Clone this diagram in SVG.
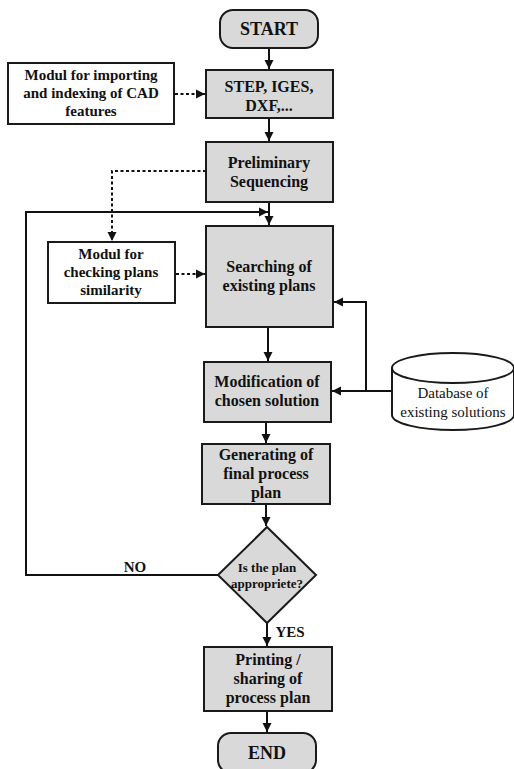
<svg xmlns="http://www.w3.org/2000/svg" width="514" height="769" viewBox="0 0 514 769">
<style>
.box{fill:#d9d9d9;stroke:#1a1a1a;stroke-width:2}
.wbox{fill:#ffffff;stroke:#1a1a1a;stroke-width:2}
.t{font-family:"Liberation Serif","Times New Roman",serif;font-weight:bold;font-size:16px;fill:#111;text-anchor:middle}
.s{font-size:15px}
.d{font-size:13px}
.n{font-weight:normal;font-size:15px}
.big{font-size:18px}
.c{fill:none;stroke:#111;stroke-width:2}
.dash{stroke-dasharray:3 2.5}
</style>
<defs>
<marker id="ah" markerWidth="10" markerHeight="10" refX="9" refY="5" orient="auto" markerUnits="userSpaceOnUse">
<path d="M0,0.5 L9,5 L0,9.5 Z" fill="#111"/>
</marker>
</defs>
<g id="connectors">
<path class="c" d="M269,48 V69" marker-end="url(#ah)"/>
<path class="c dash" d="M175,94 H205" marker-end="url(#ah)"/>
<path class="c" d="M269,118 V141" marker-end="url(#ah)"/>
<path class="c dash" d="M206,171 H112 V241" marker-end="url(#ah)"/>
<path class="c" d="M269,202 V225" marker-end="url(#ah)"/>
<path class="c" d="M218,575 H26 V212 H268" marker-end="url(#ah)"/>
<path class="c dash" d="M176,274 H205" marker-end="url(#ah)"/>
<path class="c" d="M268,327 V361" marker-end="url(#ah)"/>
<path class="c" d="M392,391 H332" marker-end="url(#ah)"/>
<path class="c" d="M366,391 V302 H334" marker-end="url(#ah)"/>
<path class="c" d="M266,422 V443" marker-end="url(#ah)"/>
<path class="c" d="M266,504 V526" marker-end="url(#ah)"/>
<path class="c" d="M267,623 V646" marker-end="url(#ah)"/>
<path class="c" d="M267,711 V732" marker-end="url(#ah)"/>
<text class="t s" x="135" y="572">NO</text>
<text class="t s" x="290" y="637">YES</text>
</g>
<g id="start">
<rect class="box" x="220" y="10" width="98" height="38" rx="13"/>
<text class="t big" x="269" y="35">START</text>
</g>
<g id="import-module">
<rect class="wbox" x="8" y="63" width="166" height="61"/>
<text class="t s" x="91" y="80">Modul for importing</text>
<text class="t s" x="91" y="98">and indexing of CAD</text>
<text class="t s" x="91" y="116">features</text>
</g>
<g id="step">
<rect class="box" x="206" y="70" width="127" height="48"/>
<text class="t" x="269" y="92">STEP, IGES,</text>
<text class="t" x="269" y="111">DXF,...</text>
</g>
<g id="preliminary">
<rect class="box" x="206" y="142" width="127" height="60"/>
<text class="t" x="269" y="168">Preliminary</text>
<text class="t" x="269" y="187">Sequencing</text>
</g>
<g id="similarity-module">
<rect class="wbox" x="48" y="242" width="127" height="61"/>
<text class="t s" x="111" y="259">Modul for</text>
<text class="t s" x="111" y="277">checking plans</text>
<text class="t s" x="111" y="295">similarity</text>
</g>
<g id="searching">
<rect class="box" x="206" y="226" width="127" height="101"/>
<text class="t" x="269" y="272">Searching of</text>
<text class="t" x="269" y="291">existing plans</text>
</g>
<g id="modification">
<rect class="box" x="204" y="362" width="127" height="60"/>
<text class="t" x="267" y="387">Modification of</text>
<text class="t" x="267" y="406">chosen solution</text>
</g>
<g id="database">
<path class="wbox" d="M392,368 V415 A61,15 0 0 0 514,415 V368"/>
<ellipse class="wbox" cx="453" cy="368" rx="61" ry="15"/>
<text class="t n" x="453" y="398">Database of</text>
<text class="t n" x="453" y="417">existing solutions</text>
</g>
<g id="generating">
<rect class="box" x="202" y="444" width="128" height="60"/>
<text class="t" x="266" y="460">Generating of</text>
<text class="t" x="266" y="479">final process</text>
<text class="t" x="266" y="498">plan</text>
</g>
<g id="decision">
<polygon class="box" points="267,527 316,575 267,623 218,575"/>
<text class="t d" x="267" y="572">Is the plan</text>
<text class="t d" x="267" y="588">appropriete?</text>
</g>
<g id="printing">
<rect class="box" x="204" y="647" width="128" height="64"/>
<text class="t" x="268" y="665">Printing /</text>
<text class="t" x="268" y="684">sharing of</text>
<text class="t" x="268" y="703">process plan</text>
</g>
<g id="end">
<rect class="box" x="218" y="733" width="98" height="40" rx="13"/>
<text class="t big" x="267" y="759">END</text>
</g>
</svg>
